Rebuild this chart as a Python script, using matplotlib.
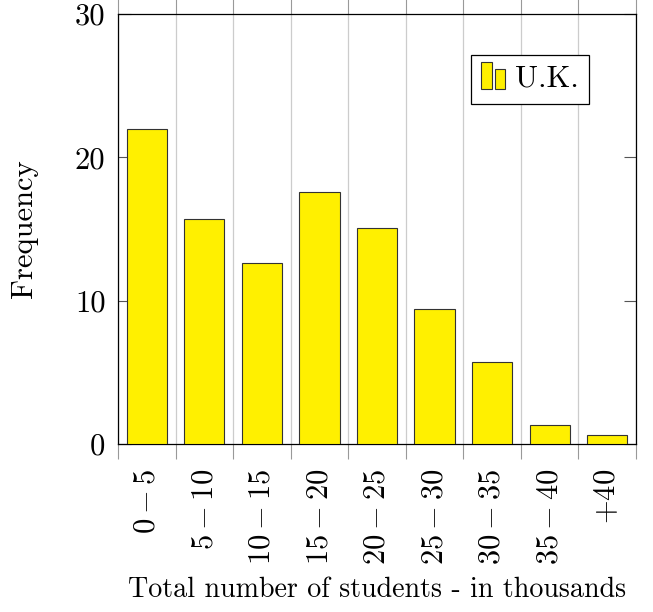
import numpy as np
import matplotlib
matplotlib.use("Agg")
import matplotlib.pyplot as plt
from matplotlib.patches import Rectangle
from matplotlib.legend_handler import HandlerBase

plt.rcParams['font.family'] = 'serif'
plt.rcParams['font.serif'] = ['cmr10']
plt.rcParams['mathtext.fontset'] = 'cm'
plt.rcParams['axes.formatter.use_mathtext'] = True

categories = ["$0-5$", "$5-10$", "$10-15$", "$15-20$", "$20-25$",
              "$25-30$", "$30-35$", "$35-40$", "$+40$"]
uk_freq = [22.0, 15.7, 12.6, 17.6, 15.1, 9.4, 5.7, 1.3, 0.6]
yticks = [0, 10, 20, 30]


class TwoBarHandler(HandlerBase):
    # little two-bar glyph like pgfplots ybar legend
    def create_artists(self, legend, orig, xd, yd, w, h, fontsize, trans):
        bw = w * 0.38
        r1 = Rectangle((xd, yd - h * 0.1), bw, h * 1.25, fc='#fff000',
                       ec='#333333', lw=0.8, transform=trans)
        r2 = Rectangle((xd + bw * 1.3, yd - h * 0.1), bw, h * 0.95,
                       fc='#fff000', ec='#333333', lw=0.8, transform=trans)
        return [r1, r2]


fig = plt.figure(figsize=(6.53, 6.12), dpi=100)
ax = fig.add_axes([0.1807, 0.2745, 0.7933, 0.7026])

x = np.arange(len(categories))
bars = ax.bar(x, uk_freq, width=0.7, color='#fff000', edgecolor='#333333',
              linewidth=0.8, zorder=3, label='U.K.')

ax.set_xlim(-0.5, len(categories) - 0.5)
ax.set_ylim(0, 30)

# grid/ticks on category boundaries, labels in the middle
ax.set_xticks(np.arange(len(categories) + 1) - 0.5)
ax.set_xticklabels([])
ax.set_xticks(x, minor=True)
ax.set_xticklabels(categories, minor=True, rotation=90, fontsize=22,
                   va='top', ha='center')
ax.tick_params(axis='x', which='minor', length=0, pad=18)
ax.tick_params(axis='x', which='major', direction='out', length=11,
               color='#999999', top=True)
ax.grid(axis='x', which='major', color='#cccccc', lw=0.9, zorder=0)

ax.set_yticks(yticks)
ax.set_yticklabels([str(v) for v in yticks], fontsize=22)
ax.tick_params(axis='y', direction='in', length=9, right=True,
               color='#555555', pad=9)

for s in ax.spines.values():
    s.set_linewidth(0.9)

ax.set_ylabel('Frequency', fontsize=22, va='center')
ax.yaxis.set_label_coords(-0.18, 0.5)
ax.set_xlabel('Total number of students - in thousands', fontsize=20.2,
              va='center')
ax.xaxis.set_label_coords(0.5, -0.34)

leg = ax.legend(handles=[bars], labels=['U.K.'],
                handler_map={type(bars): TwoBarHandler()},
                loc='upper right', bbox_to_anchor=(0.91, 0.905),
                fontsize=22, fancybox=False, framealpha=1,
                edgecolor='black', handlelength=0.9, handletextpad=0.2,
                borderpad=0.35, borderaxespad=0)
leg.get_frame().set_linewidth(0.9)

fig.savefig('out.png', dpi=100)
